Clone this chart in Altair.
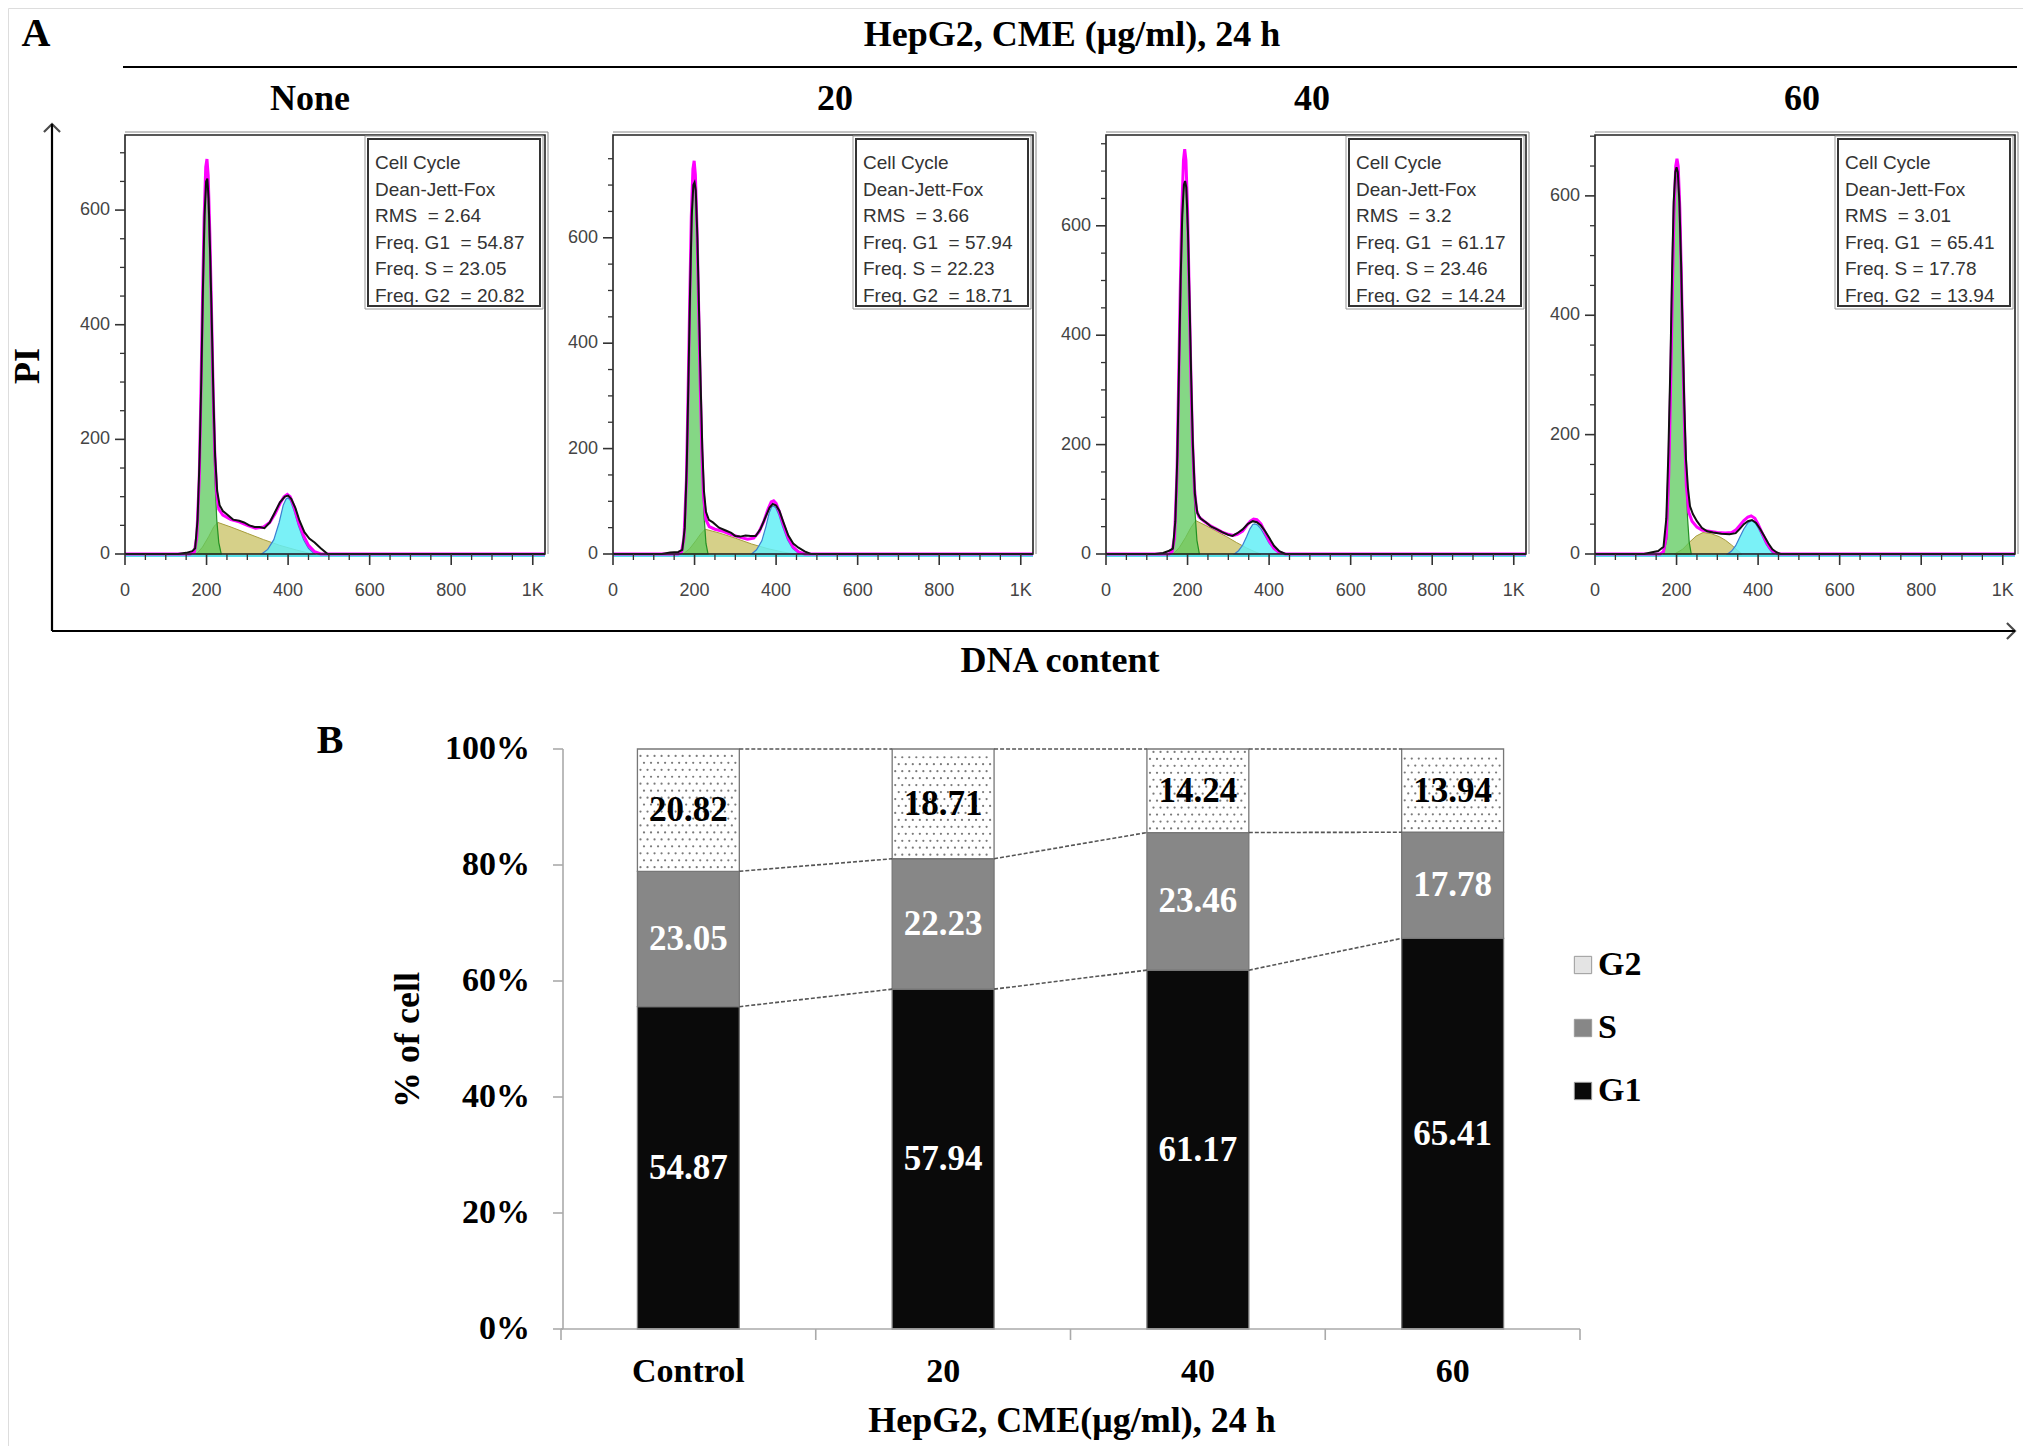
import altair as alt
import pandas as pd

M = 8  # page margin


def c(v):
    return v - M


SERIF = "Liberation Serif"
SANS = "Liberation Sans"
NB = "\u00a0"

# ---------------- data ----------------
PANEL_TITLES = ["None", "20", "40", "60"]
CATEGORIES = ["Control", "20", "40", "60"]
RMS = ["2.64", "3.66", "3.2", "3.01"]
FREQ_G1 = [54.87, 57.94, 61.17, 65.41]
FREQ_S = [23.05, 22.23, 23.46, 17.78]
FREQ_G2 = [20.82, 18.71, 14.24, 13.94]
Y_MAX = [731, 795, 766, 702]
X_MAX = 1030

X_MAJOR = [0, 200, 400, 600, 800, 1000]
X_MAJOR_LABELS = ["0", "200", "400", "600", "800", "1K"]
X_MINOR = [50, 100, 150, 250, 300, 350, 450, 500, 550, 650, 700, 750, 850, 900, 950]
Y_MAJOR = [0, 200, 400, 600]
Y_MINOR = [50, 100, 150, 250, 300, 350, 450, 500, 550, 650, 700, 750]
PCT_TICKS = [0, 20, 40, 60, 80, 100]
PCT_LABELS = ["0%", "20%", "40%", "60%", "80%", "100%"]

# histogram curves: (DNA channel, count)
G1_1 = [(168, 0), (176, 25), (182, 120), (186, 260), (190, 420), (194, 560), (198, 635), (201, 642), (204, 615),
        (208, 520), (212, 390), (216, 250), (220, 140), (225, 60), (230, 20), (236, 0)]
S_1 = [(175, 0), (190, 12), (205, 30), (218, 48), (228, 55), (260, 47), (300, 36), (340, 25), (380, 15), (420, 7), (460, 0)]
G2_1 = [(335, 0), (350, 8), (365, 25), (378, 55), (388, 85), (395, 96), (400, 98), (406, 93), (415, 75), (425, 50),
        (438, 25), (450, 10), (465, 0)]
FIT_1 = [(0, 0), (160, 0), (170, 3), (176, 30), (182, 130), (186, 275), (190, 440), (194, 585), (198, 675), (201, 689),
         (204, 660), (208, 560), (212, 430), (216, 290), (220, 180), (225, 105), (230, 78), (240, 68), (260, 60),
         (280, 56), (300, 50), (320, 45), (340, 47), (355, 55), (368, 70), (380, 88), (390, 100), (398, 104), (405, 100),
         (415, 82), (425, 57), (438, 32), (450, 15), (465, 4), (480, 0), (1030, 0)]
DATA_1 = [(0, 0), (130, 0), (150, 2), (165, 5), (172, 10), (178, 60), (183, 170), (187, 300), (191, 460), (195, 590),
          (199, 650), (202, 655), (205, 620), (209, 520), (213, 400), (217, 270), (221, 170), (226, 110), (232, 85),
          (240, 75), (252, 68), (265, 60), (280, 58), (292, 55), (305, 50), (318, 47), (330, 47), (342, 45), (355, 55),
          (367, 72), (380, 90), (392, 100), (400, 102), (408, 96), (418, 80), (428, 58), (440, 38), (452, 27), (465, 20),
          (480, 10), (497, 0), (1030, 0)]

G1_2 = [(166, 0), (174, 25), (180, 130), (184, 290), (188, 460), (192, 610), (196, 690), (200, 701), (203, 680),
        (207, 580), (211, 430), (215, 280), (219, 160), (223, 75), (228, 20), (233, 0)]
S_2 = [(172, 0), (188, 10), (203, 25), (215, 38), (226, 47), (260, 40), (300, 30), (340, 19), (380, 10), (415, 4), (445, 0)]
G2_2 = [(340, 0), (352, 8), (365, 25), (375, 52), (383, 78), (389, 89), (393, 91), (399, 88), (407, 74), (416, 52),
        (428, 27), (440, 11), (457, 0)]
FIT_2 = [(0, 0), (160, 0), (168, 4), (174, 30), (180, 140), (184, 300), (188, 475), (192, 640), (196, 730), (199, 746),
         (202, 720), (206, 620), (210, 470), (214, 320), (218, 195), (222, 110), (228, 65), (236, 52), (250, 47),
         (270, 43), (290, 37), (310, 32), (330, 28), (345, 30), (358, 42), (370, 62), (380, 85), (388, 99), (394, 101),
         (400, 96), (408, 80), (418, 56), (430, 30), (442, 13), (455, 4), (470, 0), (1030, 0)]
DATA_2 = [(0, 0), (120, 0), (140, 3), (160, 4), (170, 8), (176, 50), (181, 170), (185, 330), (189, 500), (193, 640),
          (197, 700), (200, 705), (203, 690), (207, 600), (211, 460), (215, 320), (219, 200), (223, 120), (228, 80),
          (235, 65), (245, 60), (260, 50), (275, 45), (290, 40), (300, 34), (312, 33), (325, 35), (338, 34), (350, 34),
          (362, 48), (374, 70), (384, 88), (392, 95), (400, 92), (408, 82), (418, 60), (430, 35), (442, 20), (455, 12),
          (470, 5), (485, 0), (1030, 0)]

G1_3 = [(160, 0), (168, 25), (174, 130), (178, 290), (182, 450), (186, 590), (190, 665), (194, 680), (197, 660),
        (201, 570), (205, 430), (209, 290), (213, 170), (218, 80), (223, 25), (229, 0)]
S_3 = [(165, 0), (180, 12), (195, 30), (208, 48), (220, 61), (245, 52), (270, 42), (295, 32), (320, 21), (345, 11),
       (365, 4), (380, 0)]
G2_3 = [(315, 0), (325, 6), (335, 16), (345, 32), (353, 46), (360, 54), (365, 55), (372, 53), (380, 46), (390, 33),
        (400, 20), (412, 9), (422, 3), (433, 0)]
FIT_3 = [(0, 0), (155, 0), (162, 4), (168, 30), (174, 145), (178, 310), (182, 480), (186, 630), (190, 720), (193, 740),
         (196, 720), (200, 630), (204, 480), (208, 335), (212, 210), (217, 120), (222, 80), (228, 68), (240, 60),
         (255, 52), (270, 46), (285, 40), (300, 36), (312, 34), (322, 36), (335, 42), (345, 52), (354, 60), (362, 64),
         (370, 63), (380, 55), (390, 40), (400, 24), (412, 10), (425, 3), (440, 0), (1030, 0)]
DATA_3 = [(0, 0), (120, 0), (140, 2), (155, 6), (164, 10), (170, 60), (175, 180), (179, 340), (183, 500), (187, 620),
          (191, 675), (194, 682), (197, 670), (201, 590), (205, 460), (209, 320), (213, 200), (218, 110), (224, 75),
          (232, 65), (245, 58), (258, 50), (270, 46), (285, 40), (300, 35), (310, 33), (322, 38), (335, 45), (348, 55),
          (360, 60), (370, 58), (380, 52), (390, 42), (400, 30), (412, 15), (425, 5), (440, 0), (1030, 0)]

G1_4 = [(168, 0), (176, 25), (182, 130), (186, 280), (190, 430), (194, 560), (199, 630), (203, 637), (207, 615),
        (211, 520), (215, 390), (219, 250), (223, 140), (227, 60), (231, 20), (236, 0)]
S_4 = [(195, 0), (215, 8), (232, 20), (248, 30), (265, 36), (285, 34), (305, 29), (320, 23), (335, 15), (348, 7), (360, 0)]
G2_4 = [(325, 0), (335, 5), (345, 14), (355, 28), (365, 42), (375, 52), (384, 56), (392, 53), (400, 44), (410, 30),
        (420, 16), (430, 6), (438, 0)]
FIT_4 = [(0, 0), (160, 0), (168, 4), (175, 30), (181, 135), (186, 300), (190, 450), (194, 580), (198, 650), (201, 662),
         (204, 650), (208, 580), (212, 460), (216, 320), (220, 200), (224, 115), (230, 70), (238, 55), (250, 45),
         (262, 40), (280, 38), (300, 36), (320, 35), (335, 36), (345, 40), (355, 48), (365, 56), (375, 62), (383, 64),
         (392, 60), (400, 50), (410, 35), (420, 20), (430, 9), (440, 3), (450, 0), (1030, 0)]
DATA_4 = [(0, 0), (120, 0), (140, 3), (155, 5), (168, 12), (175, 60), (180, 170), (185, 320), (189, 470), (193, 590),
          (197, 640), (200, 648), (203, 640), (207, 590), (211, 490), (215, 370), (219, 250), (223, 160), (228, 110),
          (233, 80), (240, 67), (250, 55), (262, 44), (275, 38), (290, 36), (310, 34), (330, 33), (345, 35), (355, 42),
          (365, 50), (375, 55), (385, 57), (395, 52), (405, 42), (415, 30), (425, 18), (435, 8), (445, 3), (455, 0),
          (1030, 0)]

PANEL_CURVES = [
    (G1_1, S_1, G2_1, FIT_1, DATA_1),
    (G1_2, S_2, G2_2, FIT_2, DATA_2),
    (G1_3, S_3, G2_3, FIT_3, DATA_3),
    (G1_4, S_4, G2_4, FIT_4, DATA_4),
]

# ---------------- layout (full-image pixels) ----------------
PANEL_LEFT = [125, 613, 1106, 1595]
PANEL_W = 420
PANEL_TOP = 135
PANEL_BOTTOM = 554
TITLE_X = [310, 835, 1312, 1802]

B_LEFT, B_RIGHT, B_TOP, B_BOTTOM = 561, 1580, 749, 1329
BAR_LO, BAR_HI = 0.3, 0.7

ONE = pd.DataFrame({"a": [0]})


def pts(p):
    return pd.DataFrame(p, columns=["ch", "count"])


def deco_text(txt, x, y, size=36, angle=0, font=SERIF, weight="bold", align="center", color="black"):
    return alt.Chart(ONE).mark_text(text=txt, fontSize=size, font=font, fontWeight=weight, angle=angle,
                                    align=align, baseline="middle", color=color).encode(
        x=alt.value(c(x)), y=alt.value(c(y)))


def panel(p):
    left = PANEL_LEFT[p]
    xs = alt.Scale(domain=[0, X_MAX], range=[c(left), c(left + PANEL_W)], nice=False, zero=False)
    ys = alt.Scale(domain=[0, Y_MAX[p]], range=[c(PANEL_BOTTOM), c(PANEL_TOP)], nice=False, zero=False)
    g1, s, g2, fit, dat = PANEL_CURVES[p]

    def enc(ch):
        return ch.encode(x=alt.X("ch:Q", scale=xs, axis=None),
                         y=alt.Y("count:Q", scale=ys, axis=None, stack=None))

    layers = []
    layers.append(alt.Chart(pd.DataFrame({"a": [0], "b": [X_MAX]})).mark_rule(color="#55dfe8", strokeWidth=2).encode(
        x=alt.X("a:Q", scale=xs, axis=None), x2="b:Q", y=alt.value(c(PANEL_BOTTOM + 2))))
    layers.append(enc(alt.Chart(pts(s)).mark_area(color="#cfc874", fillOpacity=0.85, stroke="#a79d3c",
                                                  strokeWidth=1)))
    layers.append(enc(alt.Chart(pts(g2)).mark_area(color="#63eef6", fillOpacity=0.85, stroke="#3b7fd1",
                                                   strokeWidth=1.2)))
    layers.append(enc(alt.Chart(pts(g1)).mark_area(color="#5cc95c", fillOpacity=0.75, stroke="#239023",
                                                   strokeWidth=1.2)))
    layers.append(enc(alt.Chart(pts(fit)).mark_line(color="#ff00ff", strokeWidth=3)))
    layers.append(enc(alt.Chart(pts(dat)).mark_line(color="#111111", strokeWidth=2)))

    frame = pd.DataFrame({"x0": [0], "x1": [X_MAX], "y0": [0], "y1": [Y_MAX[p]]})
    layers.append(alt.Chart(frame).mark_rect(fillOpacity=0, stroke="#222222", strokeWidth=1.6).encode(
        x=alt.X("x0:Q", scale=xs, axis=None), x2="x1:Q",
        y=alt.Y("y0:Q", scale=ys, axis=None), y2="y1:Q"))
    layers.append(alt.Chart(ONE).mark_rule(color="#888888", strokeWidth=1).encode(
        x=alt.value(c(left)), x2=alt.value(c(left + PANEL_W + 3)), y=alt.value(c(PANEL_TOP - 3))))
    layers.append(alt.Chart(ONE).mark_rule(color="#888888", strokeWidth=1).encode(
        x=alt.value(c(left + PANEL_W + 3)), y=alt.value(c(PANEL_TOP - 3)), y2=alt.value(c(PANEL_BOTTOM))))

    xmaj = pd.DataFrame({"v": X_MAJOR, "lab": X_MAJOR_LABELS})
    xmin = pd.DataFrame({"v": X_MINOR})
    layers.append(alt.Chart(xmaj).mark_rule(color="#333333", strokeWidth=1.6).encode(
        x=alt.X("v:Q", scale=xs, axis=None), y=alt.value(c(PANEL_BOTTOM)), y2=alt.value(c(PANEL_BOTTOM + 11))))
    layers.append(alt.Chart(xmin).mark_rule(color="#333333", strokeWidth=1.3).encode(
        x=alt.X("v:Q", scale=xs, axis=None), y=alt.value(c(PANEL_BOTTOM)), y2=alt.value(c(PANEL_BOTTOM + 6))))
    layers.append(alt.Chart(xmaj).mark_text(font=SANS, fontSize=18, color="#444444", baseline="middle").encode(
        x=alt.X("v:Q", scale=xs, axis=None), y=alt.value(c(591)), text="lab:N"))

    ymaj = pd.DataFrame({"v": Y_MAJOR})
    ymin = pd.DataFrame({"v": [v for v in Y_MINOR if v < Y_MAX[p]]})
    layers.append(alt.Chart(ymaj).mark_rule(color="#333333", strokeWidth=1.6).encode(
        y=alt.Y("v:Q", scale=ys, axis=None), x=alt.value(c(left - 10)), x2=alt.value(c(left))))
    layers.append(alt.Chart(ymin).mark_rule(color="#333333", strokeWidth=1.3).encode(
        y=alt.Y("v:Q", scale=ys, axis=None), x=alt.value(c(left - 5)), x2=alt.value(c(left))))
    layers.append(alt.Chart(ymaj).mark_text(font=SANS, fontSize=18, color="#444444", align="right",
                                            baseline="middle").encode(
        y=alt.Y("v:Q", scale=ys, axis=None), x=alt.value(c(left - 15)), text="v:Q"))

    info = ("Cell Cycle\nDean-Jett-Fox\nRMS" + NB + NB + "= " + RMS[p] +
            "\nFreq. G1" + NB + NB + "= " + f"{FREQ_G1[p]:.2f}" +
            "\nFreq. S = " + f"{FREQ_S[p]:.2f}" +
            "\nFreq. G2" + NB + NB + "= " + f"{FREQ_G2[p]:.2f}")
    layers.append(alt.Chart(ONE).mark_rect(fill="white", stroke="#333333", strokeWidth=2).encode(
        x=alt.value(c(left + 243)), x2=alt.value(c(left + 415)), y=alt.value(c(139)), y2=alt.value(c(306))))
    layers.append(alt.Chart(ONE).mark_rect(fillOpacity=0, stroke="#999999", strokeWidth=1).encode(
        x=alt.value(c(left + 240)), x2=alt.value(c(left + 418)), y=alt.value(c(136)), y2=alt.value(c(309))))
    layers.append(alt.Chart(pd.DataFrame({"t": [info]})).mark_text(
        font=SANS, fontSize=19, color="#333333", align="left", baseline="alphabetic", lineBreak="\n",
        lineHeight=26.5).encode(x=alt.value(c(left + 250)), y=alt.value(c(169)), text="t:N"))

    layers.append(deco_text(PANEL_TITLES[p], TITLE_X[p], 99))
    return alt.layer(*layers)


deco = [
    deco_text("A", 36, 34, size=40),
    deco_text("HepG2, CME (μg/ml), 24 h", 1072, 35),
    alt.Chart(ONE).mark_rule(color="black", strokeWidth=2.2).encode(
        x=alt.value(c(123)), x2=alt.value(c(2017)), y=alt.value(c(67))),
    deco_text("PI", 28, 366, angle=270),
    alt.Chart(ONE).mark_rule(color="black", strokeWidth=2.2).encode(
        x=alt.value(c(52)), y=alt.value(c(124)), y2=alt.value(c(631))),
    alt.Chart(ONE).mark_rule(color="black", strokeWidth=2.2).encode(
        x=alt.value(c(52)), x2=alt.value(c(2015)), y=alt.value(c(631))),
    alt.Chart(ONE).mark_point(shape="M -1 1 L 0 0 L 1 1", filled=False, size=260, strokeWidth=2.2,
                              color="black").encode(x=alt.value(c(52)), y=alt.value(c(124))),
    alt.Chart(ONE).mark_point(shape="M -1 1 L 0 0 L 1 1", filled=False, size=260, strokeWidth=2.2, angle=90,
                              color="black").encode(x=alt.value(c(2015)), y=alt.value(c(631))),
    deco_text("DNA content", 1060, 661),
    deco_text("B", 330, 741, size=40),
]

bar_rows, lab_rows, conn_rows, dot_rows = [], [], [], []
bounds = []
for i, cat in enumerate(CATEGORIES):
    tot = FREQ_G1[i] + FREQ_S[i] + FREQ_G2[i]
    cum = 0.0
    b = []
    for ph, vals in (("G1", FREQ_G1), ("S", FREQ_S), ("G2", FREQ_G2)):
        share = vals[i] / tot * 100
        bar_rows.append(dict(cat=cat, phase=ph, x0=i + BAR_LO, x1=i + BAR_HI, y0=cum, y1=cum + share))
        lab_rows.append(dict(phase=ph, xm=i + 0.5, ym=cum + share / 2, lab=f"{vals[i]:.2f}"))
        cum += share
        b.append(cum)
    bounds.append(b)
    lo = b[1]
    dx = (BAR_HI - BAR_LO) / 14.5
    r = 0
    yy = lo + 0.7
    while yy < 99.5:
        xx = i + BAR_LO + 0.012 + (r % 2) * dx / 2
        while xx < i + BAR_HI - 0.008:
            dot_rows.append(dict(x=xx, y=yy))
            xx += dx
        yy += 1.2
        r += 1
for i in range(len(CATEGORIES) - 1):
    for k in range(3):
        conn_rows.append(dict(x=i + BAR_HI, x2=i + 1 + BAR_LO, y=bounds[i][k], y2=bounds[i + 1][k]))

bx = alt.Scale(domain=[0, 4], range=[c(B_LEFT), c(B_RIGHT)], nice=False, zero=False)
by = alt.Scale(domain=[0, 100], range=[c(B_BOTTOM), c(B_TOP)], nice=False, zero=False)

bars = alt.Chart(pd.DataFrame(bar_rows)).mark_rect(stroke="#777777", strokeWidth=1.3).encode(
    x=alt.X("x0:Q", scale=bx, axis=None), x2="x1:Q",
    y=alt.Y("y0:Q", scale=by, axis=None), y2="y1:Q",
    color=alt.Color("phase:N", scale=alt.Scale(domain=["G1", "S", "G2"], range=["#0a0a0a", "#878787", "#ffffff"]),
                    legend=None))
dots = alt.Chart(pd.DataFrame(dot_rows)).mark_circle(size=5, color="#7a7a7a", opacity=1).encode(
    x=alt.X("x:Q", scale=bx, axis=None), y=alt.Y("y:Q", scale=by, axis=None))
conns = alt.Chart(pd.DataFrame(conn_rows)).mark_rule(color="#555555", strokeWidth=1.6, strokeDash=[4, 2]).encode(
    x=alt.X("x:Q", scale=bx, axis=None), x2="x2:Q", y=alt.Y("y:Q", scale=by, axis=None), y2="y2:Q")
labels = alt.Chart(pd.DataFrame(lab_rows)).mark_text(font=SERIF, fontWeight="bold", fontSize=35,
                                                     baseline="middle").encode(
    x=alt.X("xm:Q", scale=bx, axis=None), y=alt.Y("ym:Q", scale=by, axis=None), text="lab:N",
    color=alt.condition(alt.datum.phase == "G2", alt.value("#000000"), alt.value("#ffffff")))

yaxis_line = alt.Chart(pd.DataFrame({"a": [0], "b": [100]})).mark_rule(color="#aaaaaa", strokeWidth=1.6).encode(
    y=alt.Y("a:Q", scale=by, axis=None), y2="b:Q", x=alt.value(c(563)))
pct = pd.DataFrame({"v": PCT_TICKS, "lab": PCT_LABELS})
yticks = alt.Chart(pct).mark_rule(color="#aaaaaa", strokeWidth=1.6).encode(
    y=alt.Y("v:Q", scale=by, axis=None), x=alt.value(c(553)), x2=alt.value(c(563)))
ylabels = alt.Chart(pct).mark_text(font=SERIF, fontWeight="bold", fontSize=34, align="right",
                                   baseline="middle").encode(
    y=alt.Y("v:Q", scale=by, axis=None), x=alt.value(c(530)), text="lab:N")
xaxis_line = alt.Chart(pd.DataFrame({"a": [0], "b": [4]})).mark_rule(color="#aaaaaa", strokeWidth=1.6).encode(
    x=alt.X("a:Q", scale=bx, axis=None), x2="b:Q", y=alt.value(c(B_BOTTOM)))
xticks = alt.Chart(pd.DataFrame({"v": [0, 1, 2, 3, 4]})).mark_rule(color="#aaaaaa", strokeWidth=1.6).encode(
    x=alt.X("v:Q", scale=bx, axis=None), y=alt.value(c(B_BOTTOM)), y2=alt.value(c(B_BOTTOM + 11)))
cats = pd.DataFrame({"xm": [i + 0.5 for i in range(len(CATEGORIES))], "lab": CATEGORIES})
xlabels = alt.Chart(cats).mark_text(font=SERIF, fontWeight="bold", fontSize=34, baseline="middle").encode(
    x=alt.X("xm:Q", scale=bx, axis=None), y=alt.value(c(1372)), text="lab:N")

part_b = alt.layer(bars, dots, conns, labels, yaxis_line, yticks, ylabels, xaxis_line, xticks, xlabels)

b_titles = [
    deco_text("% of cell", 408, 1040, angle=270),
    deco_text("HepG2, CME(μg/ml), 24 h", 1072, 1421),
]

leg_df = pd.DataFrame({"phase": ["G2", "S", "G1"]})
ly = alt.Scale(type="point", domain=["G2", "S", "G1"], range=[c(965), c(1091)], padding=0)
leg_sq = alt.Chart(leg_df).mark_square(size=300, stroke="#9a9a9a", strokeWidth=1, opacity=1).encode(
    y=alt.Y("phase:N", scale=ly, axis=None), x=alt.value(c(1583)),
    color=alt.Color("phase:N", scale=alt.Scale(domain=["G2", "S", "G1"], range=["#e4e4e4", "#878787", "#0a0a0a"]),
                    legend=None))
leg_tx = alt.Chart(leg_df).mark_text(font=SERIF, fontWeight="bold", fontSize=34, align="left",
                                     baseline="middle").encode(
    y=alt.Y("phase:N", scale=ly, axis=None), x=alt.value(c(1598)), text="phase:N")
legend = alt.layer(leg_sq, leg_tx)

chart = alt.layer(
    *deco, panel(0), panel(1), panel(2), panel(3), part_b, *b_titles, legend
).resolve_scale(
    x="independent", y="independent", color="independent"
).properties(
    width=2015, height=1438, autosize=alt.AutoSizeParams(type="none"), padding=0
).configure_view(stroke="transparent", strokeWidth=0, strokeOpacity=0).configure(background="white")

chart.save("out.html", embed_options={"renderer": "svg", "actions": False})
